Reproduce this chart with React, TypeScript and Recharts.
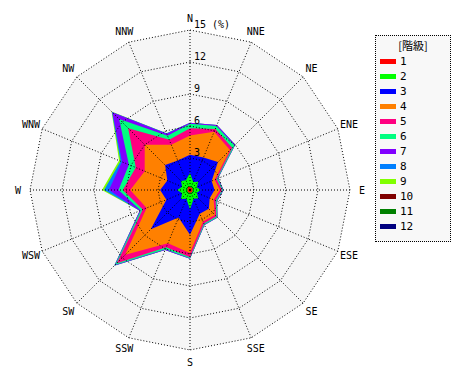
import { RadarChart, Radar, PolarGrid, PolarAngleAxis, PolarRadiusAxis, Legend } from 'recharts';

const directions = ['N', 'NNE', 'NE', 'ENE', 'E', 'ESE', 'SE', 'SSE', 'S', 'SSW', 'SW', 'WSW', 'W', 'WNW', 'NW', 'NNW'];

// frequency (%) of each class per direction
const class1 = [0.3, 0.2, 0.3, 0.2, 0.3, 0.2, 0.3, 0.2, 0.4, 0.2, 0.3, 0.2, 0.3, 0.2, 0.3, 0.3];
const class2 = [1.3, 0.6, 0.8, 0.5, 0.7, 0.5, 0.8, 0.7, 1.4, 0.7, 0.9, 0.6, 0.9, 0.6, 0.9, 0.7];
const class3 = [1.7, 2.5, 2.6, 1.5, 1.3, 1.3, 1.4, 1.5, 2.4, 1.9, 4.0, 1.6, 1.6, 1.5, 2.1, 2.0];
const class4 = [1.8, 2.6, 1.6, 0.3, 0.5, 0.4, 0.8, 0.8, 1.7, 2.6, 3.4, 2.0, 2.8, 2.3, 2.7, 1.6];
const class5 = [0.7, 0.3, 0.3, 0.2, 0.2, 0.2, 0.2, 0.2, 0.4, 0.4, 1.1, 0.4, 0.7, 0.9, 2.2, 0.5];
const class6 = [0.4, 0.3, 0.3, 0.1, 0.1, 0.1, 0.1, 0.1, 0.1, 0.2, 0.2, 0.2, 0.4, 0.7, 1.2, 0.4];
const class7 = [0.1, 0.1, 0.1, 0.05, 0.05, 0.05, 0.05, 0.05, 0.05, 0.1, 0.1, 0.1, 0.9, 0.7, 0.9, 0.2];
const class8 = [0, 0, 0, 0, 0, 0, 0, 0, 0, 0, 0.05, 0, 0.45, 0.15, 0.05, 0.05];
const class9 = [0, 0, 0, 0, 0, 0, 0, 0, 0, 0, 0, 0, 0.2, 0.15, 0.05, 0];
const class10 = [0, 0, 0, 0, 0, 0, 0, 0, 0, 0, 0, 0, 0, 0, 0, 0];
const class11 = [0, 0, 0, 0, 0, 0, 0, 0, 0, 0, 0, 0, 0, 0, 0, 0];
const class12 = [0, 0, 0, 0, 0, 0, 0, 0, 0, 0, 0, 0, 0, 0, 0, 0];

const classes = [class1, class2, class3, class4, class5, class6, class7, class8, class9, class10, class11, class12];
const classNames = ['1', '2', '3', '4', '5', '6', '7', '8', '9', '10', '11', '12'];
const classColors = ['#ff0000', '#00ff00', '#0000ff', '#ff8000', '#ff0080', '#00ff80', '#8000ff', '#0080ff', '#80ff00', '#800000', '#008000', '#000080'];

const radiusTicks = [3, 6, 9, 12, 15];
const maxValue = 15;

// stacked: each class drawn at the cumulative total
const data = directions.map((dir, i) => {
  const row: Record<string, string | number> = { dir, bg: maxValue };
  let sum = 0;
  classes.forEach((c, k) => {
    sum += c[i];
    row[`c${k + 1}`] = Math.round(sum * 1000) / 1000;
  });
  return row;
});

const CX = 190;
const CY = 190;
const R = 160;
const MONO = '"DejaVu Sans Mono", monospace';

function AngleTick(props: any) {
  const { x, y, payload } = props;
  const cx = props.cx ?? CX;
  const cy = props.cy ?? CY;
  const dx = x - cx;
  const dy = y - cy;
  const len = Math.hypot(dx, dy) || 1;
  const r = 172;
  return (
    <text x={cx + (dx / len) * r} y={cy + (dy / len) * r} textAnchor="middle" dominantBaseline="central" fontSize={10} fontFamily={MONO} fill="#000">
      {payload.value}
    </text>
  );
}

function RadiusTick(props: any) {
  const { x, y, payload } = props;
  return (
    <text x={x + 4} y={y - 2} fontSize={10} fontFamily={MONO} fill="#000">
      {payload.value === maxValue ? `${payload.value} (%)` : payload.value}
    </text>
  );
}

function LegendBox() {
  return (
    <div style={{ position: 'relative', width: 76, height: 207, border: '1px dotted #000', background: '#f8f8f8', boxSizing: 'border-box', fontFamily: MONO, fontSize: 11, color: '#000' }}>
      <div style={{ position: 'absolute', top: 2, left: 0, width: '100%', textAlign: 'center', fontFamily: '"Noto Sans CJK JP", sans-serif', fontSize: 11, lineHeight: '14px' }}>[階級]</div>
      {classNames.map((name, k) => (
        <div key={name} style={{ position: 'absolute', left: 4, top: 18 + k * 15, height: 14, display: 'flex', alignItems: 'center' }}>
          <span style={{ display: 'inline-block', width: 16, height: 5, background: classColors[k], marginRight: 4 }} />
          <span>{name}</span>
        </div>
      ))}
    </div>
  );
}

export default function App() {
  const order = classes.map((c, k) => k).filter((k) => classes[k].some((v) => v > 0)).reverse();
  const margin = { top: 0, right: 0, bottom: 0, left: 0 };
  return (
    <div style={{ position: 'absolute', left: 0, top: 0, width: 470, height: 380, background: '#fff' }}>
      {/* filled layers */}
      <RadarChart width={470} height={380} data={data} cx={CX} cy={CY} outerRadius={R} margin={margin}>
        <PolarAngleAxis dataKey="dir" tick={<AngleTick />} tickLine={false} axisLine={false} />
        <PolarRadiusAxis angle={90} domain={[0, maxValue]} ticks={radiusTicks} tick={false} axisLine={false} tickLine={false} />
        <Radar dataKey="bg" fill="#f6f6f6" fillOpacity={1} stroke="none" isAnimationActive={false} legendType="none" />
        {order.map((k) => (
          <Radar key={k} name={classNames[k]} dataKey={`c${k + 1}`} fill={classColors[k]} fillOpacity={1} stroke="none" isAnimationActive={false} />
        ))}
        <Legend content={() => <LegendBox />} wrapperStyle={{ position: 'absolute', left: 375, top: 35, width: 76 }} />
      </RadarChart>
      {/* dotted grid drawn over the fills */}
      <div style={{ position: 'absolute', left: 0, top: 0, pointerEvents: 'none' }}>
        <RadarChart width={470} height={380} data={data} cx={CX} cy={CY} outerRadius={R} margin={margin}>
          <PolarGrid gridType="polygon" stroke="#000" strokeDasharray="1 2" />
          <PolarAngleAxis dataKey="dir" tick={false} tickLine={false} axisLine={false} />
          <PolarRadiusAxis angle={90} domain={[0, maxValue]} ticks={radiusTicks} tick={<RadiusTick />} axisLine={false} tickLine={false} />
          <Radar dataKey="bg" fill="none" stroke="none" isAnimationActive={false} />
        </RadarChart>
      </div>
    </div>
  );
}
